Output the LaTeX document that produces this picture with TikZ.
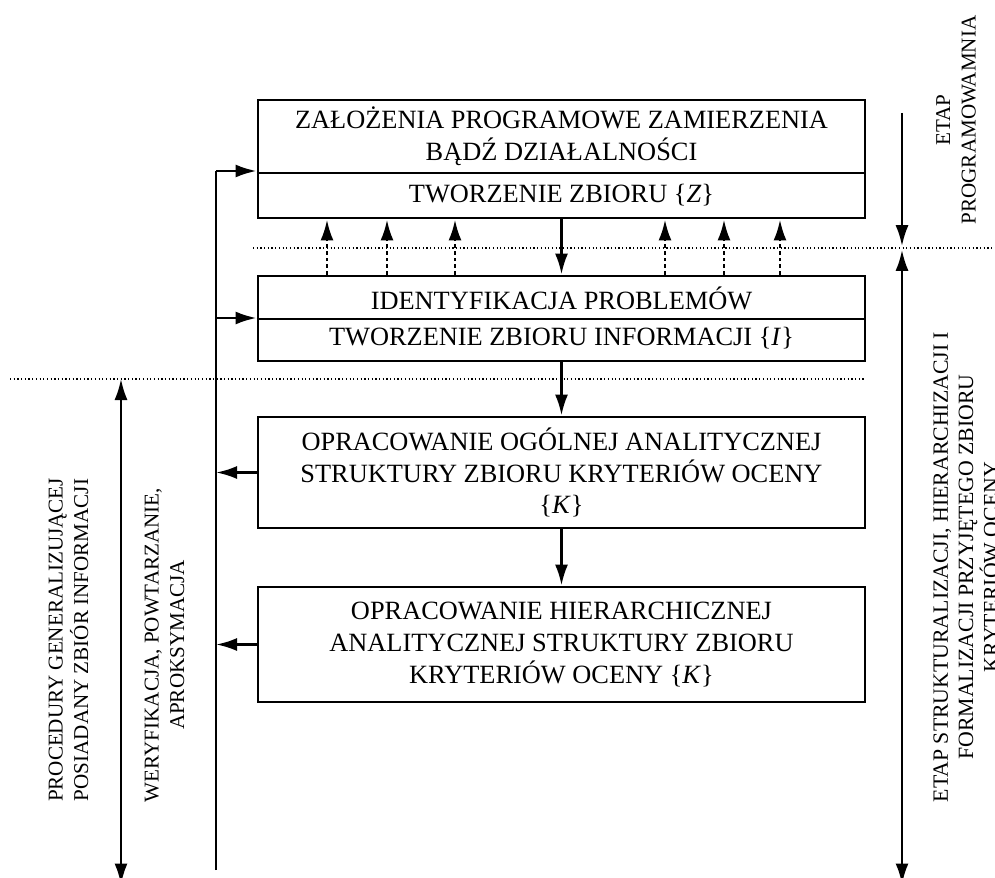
\documentclass[tikz,border=0pt]{standalone}
\usepackage{fontspec}
\setmainfont{Liberation Serif}
\usetikzlibrary{arrows.meta}
\tikzset{box/.style = {draw, line width=1.6pt, minimum width=12.14cm, inner sep=0}}
\tikzset{boxtext/.style = {font=\fontsize{15}{18}\selectfont, align=center, inner sep=0}}
\tikzset{sidetext/.style = {font=\fontsize{12}{14.5}\selectfont, align=center, rotate=90, inner sep=0}}
\tikzset{tip/.style = {Latex[length=4.2mm,width=2.6mm]}}
\tikzset{flow/.style = {-{Latex[length=4.2mm,width=2.6mm]}, line width=1.6pt}}
\tikzset{back/.style = {-{Latex[length=4.2mm,width=2.6mm]}, line width=1.2pt}}
\tikzset{span/.style = {{Latex[length=4.2mm,width=2.6mm]}-{Latex[length=4.2mm,width=2.6mm]}, line width=1.2pt}}
\tikzset{dotflow/.style = {-{Latex[length=4.2mm,width=2.6mm]}, line width=1.6pt, dash pattern=on 2pt off 1.8pt}}
\tikzset{border/.style = {line width=0.8pt, dash pattern=on 0.7pt off 1.4pt}}

\begin{document}
\begin{tikzpicture}
    \useasboundingbox (0, 0) rectangle (19.9, 17.54);

    % boxes
    \node [box, minimum height=2.36cm] (zal) at (11.23, 14.36) {};
    \node [box, minimum height=1.70cm] (ident) at (11.23, 11.17) {};
    \node [box, minimum height=2.22cm, boxtext] (ogolna) at (11.23, 8.09)
      {OPRACOWANIE OGÓLNEJ ANALITYCZNEJ\\STRUKTURY ZBIORU KRYTERIÓW OCENY\\\{\textit{K}\}};
    \node [box, minimum height=2.30cm, boxtext] (hier) at (11.23, 4.65)
      {OPRACOWANIE HIERARCHICZNEJ\\ANALITYCZNEJ STRUKTURY ZBIORU\\KRYTERIÓW OCENY \{\textit{K}\}};

    \coordinate (zsplit) at (11.23, 14.08);
    \coordinate (isplit) at (11.23, 11.16);
    \draw [line width=1.1pt] (zal.west |- zsplit) -- (zal.east |- zsplit);
    \draw [line width=1.1pt] (ident.west |- isplit) -- (ident.east |- isplit);

    \node [boxtext] (zaltop) at (11.23, 14.81) {ZAŁOŻENIA PROGRAMOWE ZAMIERZENIA\\BĄDŹ DZIAŁALNOŚCI};
    \node [boxtext] (zalbot) at (11.23, 13.64) {TWORZENIE ZBIORU \{\textit{Z}\}};
    \node [boxtext] (identtop) at (11.23, 11.58) {IDENTYFIKACJA PROBLEMÓW};
    \node [boxtext] (identbot) at (11.23, 10.78) {TWORZENIE ZBIORU INFORMACJI \{\textit{I}\}};

    % main flow
    \draw [flow] (zal) -- (ident);
    \draw [flow] (ident) -- (ogolna);
    \draw [flow] (ogolna) -- (hier);
    \foreach \x in {6.54, 7.74, 9.10, 13.30, 14.48, 15.60}
      \draw [dotflow] (\x, 0 |- ident.north) -- (\x, 0 |- zal.south);

    % stage borders
    \draw [border] (5.06, 12.58) -- (19.9, 12.58);
    \draw [border] (0.2, 9.96) -- (17.3, 9.96);

    % feedback line
    \coordinate (fbtop) at (4.32, 14.12);
    \coordinate (fbid) at (4.32, 11.18);
    \coordinate (fbbot) at (4.32, 0.14);
    \draw [line width=1.2pt] (fbbot) -- (fbtop);
    \draw [back, line width=1.5pt] (fbtop) -- (zal.west |- fbtop);
    \draw [back, line width=1.5pt] (fbid) -- (ident.west |- fbid);
    \draw [back, line width=1.5pt] (ogolna.west) -- (ogolna.west -| fbbot);
    \draw [back, line width=1.5pt] (hier.west) -- (hier.west -| fbbot);

    % stage spans
    \coordinate (gentop) at (2.42, 9.96);
    \coordinate (genbot) at (2.42, -0.15);
    \draw [span] (genbot) -- (gentop);
    \coordinate (progtop) at (18.04, 15.28);
    \coordinate (split) at (18.04, 12.58);
    \coordinate (strbot) at (18.04, -0.15);
    \draw [back, line width=1.5pt, shorten >=1pt] (progtop) -- (split);
    \draw [span, line width=1.5pt, shorten >=1pt] (strbot) -- (split);

    % stage labels
    \node [sidetext] (proglab) at (19.12, 15.14) {ETAP\\PROGRAMOWAMNIA};
    \node [sidetext, font=\fontsize{12.4}{14.4}\selectfont] (strlab) at (19.32, 6.2)
      {ETAP STRUKTURALIZACJI, HIERARCHIZACJI I\\FORMALIZACJI PRZYJĘTEGO ZBIORU\\KRYTERIÓW OCENY};
    \node [sidetext] (genlab) at (1.37, 4.74) {PROCEDURY GENERALIZUJĄCEJ\\POSIADANY ZBIÓR INFORMACJI};
    \node [sidetext] (weryflab) at (3.29, 4.64) {WERYFIKACJA, POWTARZANIE,\\APROKSYMACJA};
\end{tikzpicture}
\end{document}
